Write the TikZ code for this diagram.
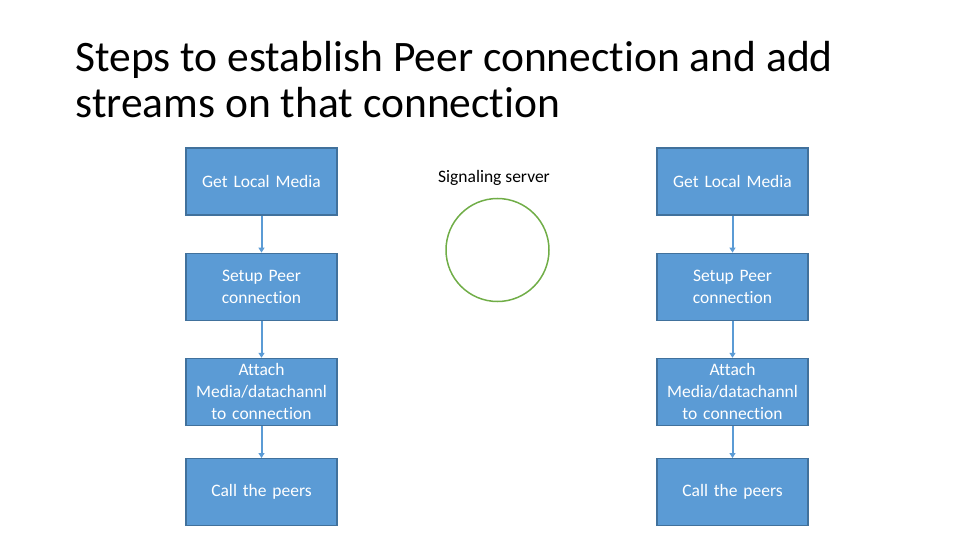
\documentclass[tikz,border=0pt]{standalone}
\usepackage{fontspec}
\setmainfont{Carlito}[Ligatures=NoCommon]
\usepackage{xcolor}
\usetikzlibrary{positioning,arrows.meta}
\definecolor{boxblue}{HTML}{5B9BD5}
\definecolor{boxline}{HTML}{41719C}
\definecolor{ringgreen}{HTML}{70AD47}
\begin{document}
\begin{tikzpicture}[x=1pt,y=-1pt,font=\fontsize{17.5}{22}\selectfont,node distance=37pt,
 b/.style={draw=boxline,line width=1.2pt,fill=boxblue,text=white,align=center,minimum width=151pt,minimum height=67pt,text width=145pt,inner sep=0pt},
 ar/.style={-{Triangle[length=5pt,width=6pt]},draw=boxblue,line width=2pt}]
\useasboundingbox (0,0) rectangle (960,540);
\node[anchor=base west,align=left,font=\fontsize{43.5}{46}\selectfont] (title) at (72,118)
 {Steps to establish Peer connection and add\\streams on that connection};
% left peer
\node[b] (l1) at (261.5,181.5) {Get Local Media};
\node[b,below=of l1] (l2) {Setup Peer\\connection};
\node[b,below=of l2] (l3) {Attach\\Media/datachannl\\to connection};
\node[b,below=32pt of l3] (l4) {Call the peers};
% right peer
\node[b] (r1) at (732.5,181.5) {Get Local Media};
\node[b,below=of r1] (r2) {Setup Peer\\connection};
\node[b,below=of r2] (r3) {Attach\\Media/datachannl\\to connection};
\node[b,below=32pt of r3] (r4) {Call the peers};
% server
\node (sig) at (494,178) {Signaling server};
\node[circle,draw=ringgreen,line width=1.5pt,minimum size=103pt] (srv) at (497.5,250) {};
\draw[ar] (l1)--(l2); \draw[ar] (l2)--(l3); \draw[ar] (l3)--(l4);
\draw[ar] (r1)--(r2); \draw[ar] (r2)--(r3); \draw[ar] (r3)--(r4);
\end{tikzpicture}
\end{document}
